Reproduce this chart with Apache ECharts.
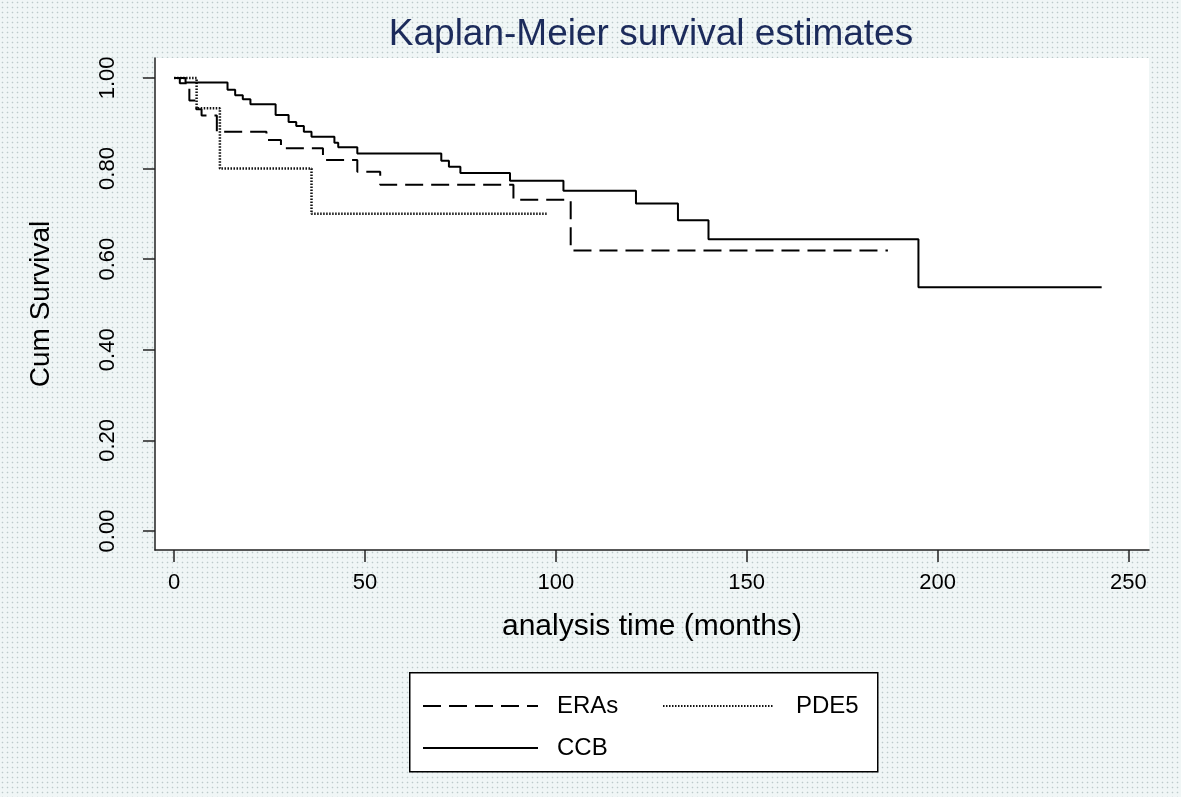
<!DOCTYPE html>
<html>
<head>
<meta charset="utf-8">
<script src="https://cdn.jsdelivr.net/npm/echarts@6/dist/echarts.min.js"></script>
<style>
  html, body { margin: 0; padding: 0; }
  body {
    width: 1181px; height: 797px;
    background-color: #f0f6f6;
    background-image: radial-gradient(circle, #bccacb 0.7px, transparent 1.1px);
    background-size: 5px 5px;
  }
  #chart { width: 1181px; height: 797px; }
</style>
</head>
<body>
<div id="chart"></div>
<script>
// ---- data ----
const xTicks = [0, 50, 100, 150, 200, 250];
const yTicks = [0, 0.2, 0.4, 0.6, 0.8, 1.0];

const erasTime = [0, 1.5, 4, 5.8, 7.2, 11.2, 24.2, 28, 39, 48, 54, 88.9, 103.9, 187];
const erasSurv = [1.0, 0.988, 0.950, 0.931, 0.917, 0.881, 0.863, 0.845, 0.819, 0.793, 0.764, 0.731, 0.619, 0.619];

const pde5Time = [0, 5.9, 12, 36, 97.6];
const pde5Surv = [1.0, 0.933, 0.800, 0.700, 0.700];

const ccbTime = [0, 3, 14, 16, 18, 20, 26.6, 30, 32, 34, 36, 42, 43, 48, 70, 72, 75, 88, 102, 121, 132, 140, 195, 243];
const ccbSurv = [1.0, 0.990, 0.974, 0.962, 0.953, 0.942, 0.918, 0.903, 0.894, 0.881, 0.870, 0.857, 0.847, 0.833, 0.817, 0.804, 0.790, 0.773, 0.751, 0.723, 0.686, 0.644, 0.538, 0.538];

const seriesNames = ['ERAs', 'PDE5', 'CCB'];

function pairs(t, s) { return t.map((v, i) => [v, s[i]]); }

const FONT = '"Liberation Sans", Arial, sans-serif';
const chart = echarts.init(document.getElementById('chart'), null, { renderer: 'canvas' });

function legendAt(name, left, top, w, pad) {
  return {
    data: [name], left: left, top: top,
    itemWidth: w, itemHeight: 14,
    textStyle: { fontFamily: FONT, fontSize: 24, color: '#000', padding: [0, 0, 0, pad] },
    itemStyle: { color: 'transparent', borderColor: 'transparent', borderWidth: 0, opacity: 0 },
    selectedMode: false
  };
}

chart.setOption({
  backgroundColor: 'transparent',
  animation: false,
  title: {
    text: 'Kaplan-Meier survival estimates',
    left: 646, top: 11, textAlign: 'center',
    textStyle: { fontFamily: FONT, fontSize: 37, fontWeight: 'normal', color: '#1c2b5b' }
  },
  grid: {
    left: 155, top: 58, right: 32, bottom: 247,
    show: true, backgroundColor: '#ffffff', borderWidth: 0
  },
  graphic: [{
    type: 'rect', left: 409, top: 672, z: 0,
    shape: { width: 468, height: 99 },
    style: { fill: '#ffffff', stroke: '#000', lineWidth: 1.5 }
  }],
  legend: [
    legendAt(seriesNames[0], 417, 689, 115, 14),
    legendAt(seriesNames[1], 657, 689, 110, 18),
    legendAt(seriesNames[2], 417, 731, 115, 14)
  ],
  xAxis: {
    type: 'value', min: -5, max: 255.4,
    name: 'analysis time (months)', nameLocation: 'middle', nameGap: 62,
    nameTextStyle: { fontFamily: FONT, fontSize: 30, color: '#000' },
    axisLine: { show: true, onZero: false, lineStyle: { color: '#222', width: 1.5 } },
    axisTick: { show: true, length: 12, lineStyle: { color: '#222', width: 1.5 }, customValues: xTicks },
    axisLabel: { fontFamily: FONT, fontSize: 22, color: '#000', margin: 22, customValues: xTicks },
    splitLine: { show: false }
  },
  yAxis: {
    type: 'value', min: -0.042, max: 1.044,
    name: 'Cum Survival', nameLocation: 'middle', nameGap: 100,
    nameTextStyle: { fontFamily: FONT, fontSize: 28, color: '#000' },
    axisLine: { show: true, onZero: false, lineStyle: { color: '#222', width: 1.5 } },
    axisTick: { show: true, length: 12, lineStyle: { color: '#222', width: 1.5 }, customValues: yTicks },
    axisLabel: { fontFamily: FONT, fontSize: 22, color: '#000', margin: 36, rotate: 90,
      customValues: yTicks, formatter: v => v.toFixed(2) },
    splitLine: { show: false }
  },
  series: [
    { name: seriesNames[0], type: 'line', step: 'end', symbol: 'none', data: pairs(erasTime, erasSurv),
      lineStyle: { color: '#000', width: 2, type: [18, 8] }, z: 3 },
    { name: seriesNames[1], type: 'line', step: 'end', symbol: 'none', data: pairs(pde5Time, pde5Surv),
      lineStyle: { color: '#111', width: 2.5, type: [1.5, 1.5] }, z: 2 },
    { name: seriesNames[2], type: 'line', step: 'end', symbol: 'none', data: pairs(ccbTime, ccbSurv),
      lineStyle: { color: '#000', width: 2, type: 'solid' }, z: 4 }
  ]
});
</script>
</body>
</html>
